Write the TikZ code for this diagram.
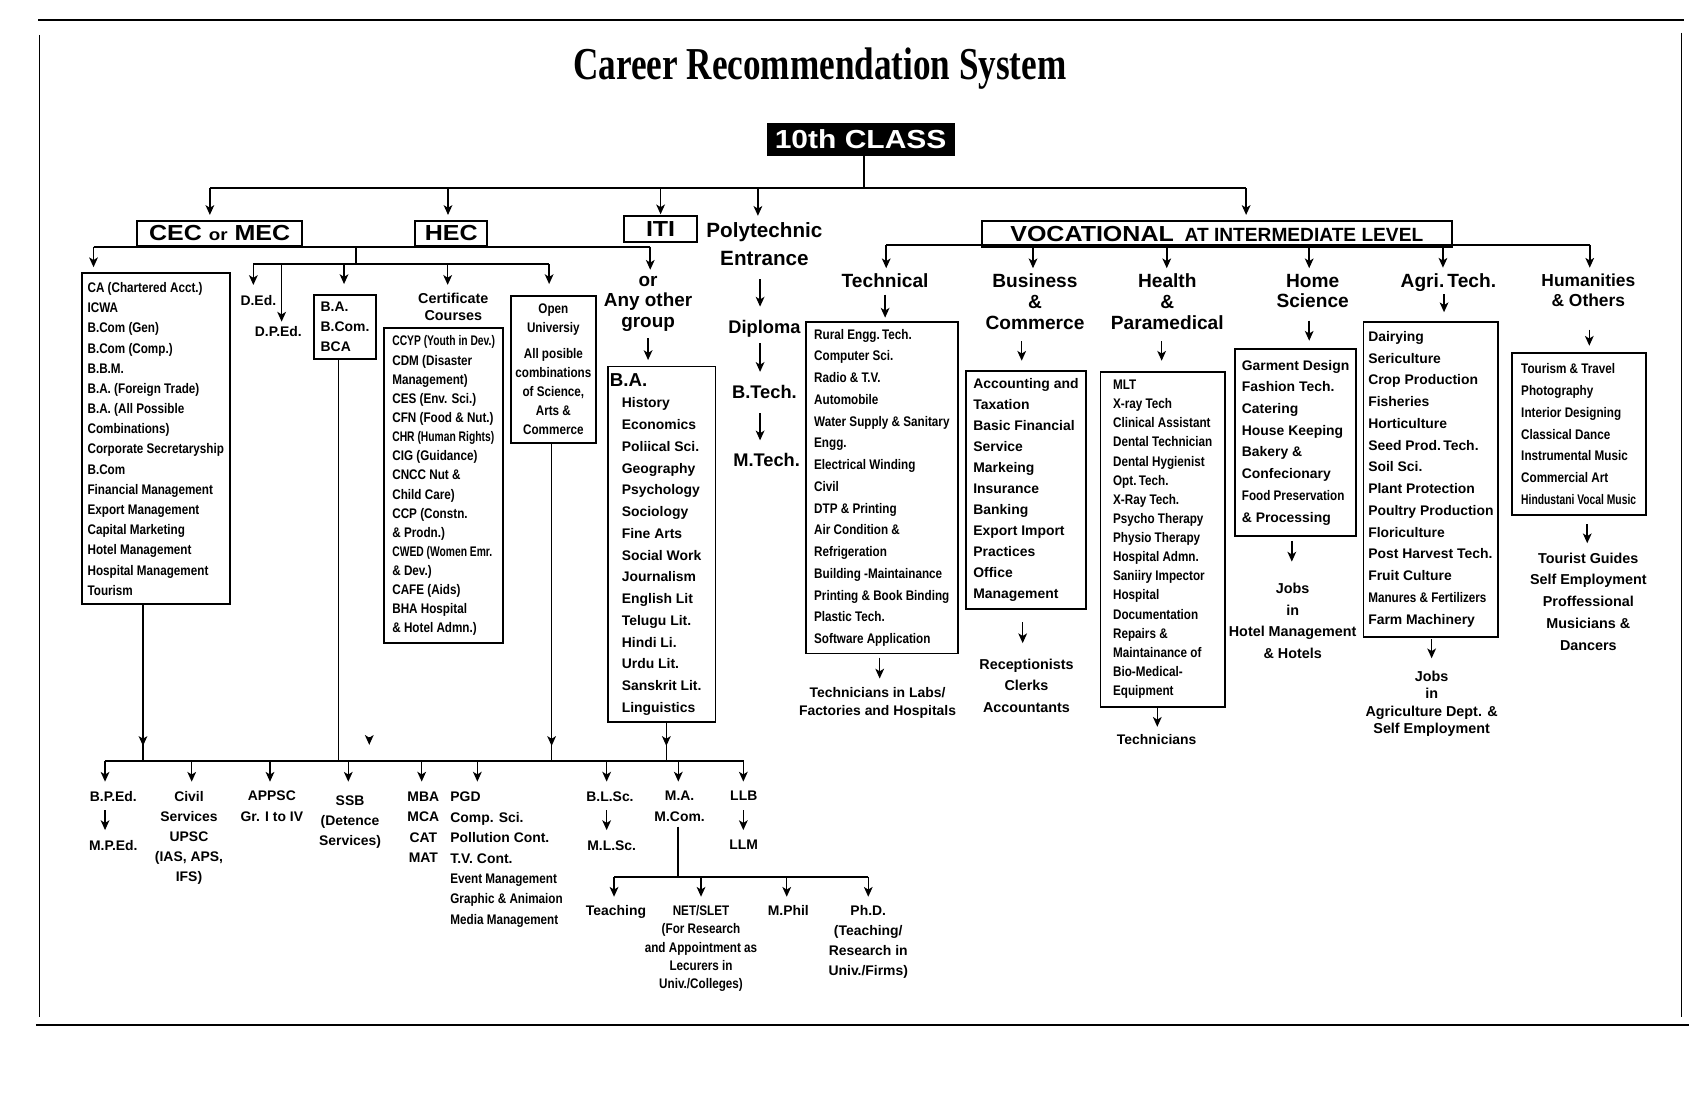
\documentclass[tikz,border=0pt]{standalone}
\usepackage{fontspec}
\setmainfont{Liberation Sans}
\newfontfamily\narrowfont{Liberation Sans}[FakeStretch=0.84]
\newfontfamily\tightfont{Liberation Sans}[FakeStretch=0.74]
\newfontfamily\widefont{Liberation Sans}[FakeStretch=1.15]
\newfontfamily\titlefont{Liberation Serif}[FakeStretch=0.77]
\usetikzlibrary{arrows.meta, decorations.markings}
\newcommand{\setfs}[2]{\fontsize{#1}{#2}\selectfont}
\tikzset{
    >={Stealth[length=4.5pt, width=4pt, inset=1.2pt]},
    every node/.style={inner sep=0pt, font=\bfseries\setfs{6.4}{9.5}},
    link/.style={line width=.7pt},
    bus/.style={line width=.9pt},
    arr/.style={->, line width=.7pt},
    tipline/.style={link, postaction=decorate, decoration={markings, mark=at position -7pt with {\arrow{>}}}},
    stream/.style={draw, line width=.9pt, minimum height=11.6pt, font=\widefont\bfseries\setfs{10}{12}},
    listbox/.style={draw, line width=.85pt, align=left, inner xsep=1pt},
    head/.style={anchor=north, align=center, font=\bfseries\setfs{8.8}{9.5}},
    txt/.style={anchor=north, align=center}
}
\begin{document}
\begin{tikzpicture}[x=.5pt, y=-.5pt]
    \fill[white] (0,0) rectangle (1568,1020);
    \draw[line width=1.2pt] (35,18.4) -- (1549,18.4);
    \draw[line width=1.2pt] (33,942.6) -- (1553,942.6);
    \draw[line width=.5pt] (36,32) -- (36,935);
    \draw[line width=.5pt] (1546.5,30) -- (1546.5,935);

    \node[anchor=base, font=\titlefont\bfseries\setfs{21}{24}] (title) at (754,72.7) {Career Recommendation System};
    \node[fill=black, text=white, minimum width=86.5pt, minimum height=14.9pt, font=\widefont\bfseries\setfs{12}{14}] (cls) at (791.5,128.3) {10th CLASS};

    \node[stream, minimum width=76pt] (cec) at (202,214.6) {CEC {\setfs{7.5}{9}or} MEC};
    \node[stream, minimum width=33pt] (hec) at (415,214.6) {HEC};
    \node[stream, minimum width=33.5pt, minimum height=12.1pt] (iti) at (607.5,210.7) {ITI};
    \node[head, font=\bfseries\setfs{9.5}{12.75}] (poly) at (703,204.5) {Polytechnic\\Entrance};
    \node[stream, minimum width=216pt, minimum height=11.8pt] (voc) at (1119,215) {VOCATIONAL\enspace{\normalfont\bfseries\setfs{8.8}{10}AT INTERMEDIATE LEVEL}};

    \coordinate (hub) at (795,173.2);
    \coordinate (tl) at (193,173.2);
    \coordinate (tr) at (1146,173.2);
    \draw[bus] (cls.south -| hub) -- (hub);
    \draw[bus] (tl) -- (tr);
    \foreach \x/\n/\s in {193/cec/2.2, 412/hec/2.2, 607.5/iti/0.3, 697/poly/3, 1146/voc/2.3}{
        \coordinate (k\n) at (\x,173.2);
        \draw[arr, shorten >=\s pt] (k\n) -- (k\n |- \n.north);
    }

    % CEC / HEC branch
    \node[listbox, font=\narrowfont\bfseries\setfs{6.4}{9.28}, minimum width=68.2pt, minimum height=152.2pt] (ca) at (143.3,403.6) {CA (Chartered Acct.)\\ICWA\\B.Com (Gen)\\B.Com (Comp.)\\B.B.M.\\B.A. (Foreign Trade)\\B.A. (All Possible\\Combinations)\\Corporate Secretaryship\\B.Com\\Financial Management\\Export Management\\Capital Marketing\\Hotel Management\\Hospital Management\\Tourism};
    \node[txt] (ded) at (237.6,271.3) {D.Ed.};
    \node[txt] (dped) at (256,299.4) {D.P.Ed.};
    \node[listbox, font=\bfseries\setfs{6.4}{9.2}, minimum width=28.25pt, minimum height=29.6pt] (babox) at (317.3,300.9) {B.A.\\B.Com.\\BCA};
    \node[txt, font=\bfseries\setfs{6.6}{7.7}] (certhd) at (416.9,269.6) {Certificate\\Courses};
    \node[listbox, font=\narrowfont\bfseries\setfs{6.4}{8.8}, minimum width=54.9pt, minimum height=144.8pt] (cert) at (408,446.8) {{\tightfont CCYP (Youth in Dev.)}\\CDM (Disaster\\Management)\\CES (Env. Sci.)\\CFN (Food \& Nut.)\\{\tightfont CHR (Human Rights)}\\CIG (Guidance)\\CNCC Nut \&\\Child Care)\\CCP (Constn.\\\& Prodn.)\\{\tightfont CWED (Women Emr.}\\\& Dev.)\\CAFE (Aids)\\BHA Hospital\\\& Hotel Admn.)};
    \node[listbox, align=center, font=\narrowfont\bfseries\setfs{6.4}{8.75}, minimum width=38.9pt, minimum height=67.9pt] (open) at (508.9,339.8) {Open\\Universiy\\[3pt]All posible\\combinations\\of Science,\\Arts \&\\Commerce};
    \node[txt, font=\bfseries\setfs{8.7}{9.5}] (grp) at (596,253.5) {or\\Any other\\group};
    \node[listbox, font=\bfseries\setfs{6.4}{10}, minimum width=49.5pt, minimum height=163.5pt] (bagrp) at (608.5,500.5) {\hspace*{-5.5pt}{\setfs{8.6}{10}B.A.}\\History\\Economics\\Poliical Sci.\\Geography\\Psychology\\Sociology\\Fine Arts\\Social Work\\Journalism\\English Lit\\Telugu Lit.\\Hindi Li.\\Urdu Lit.\\Sanskrit Lit.\\Linguistics};

    \coordinate (cl) at (86,226.8);
    \coordinate (cr) at (598,226.8);
    \coordinate (hj) at (327,226.8);
    \coordinate (hl) at (233,243);
    \coordinate (hr) at (505,243);
    \draw[bus] (cl) -- (cr);
    \draw[arr, shorten >=2.4pt] (cl) -- (cl |- ca.north);
    \draw[arr, shorten >=2.7pt] (cr) -- (cr |- grp.north);
    \draw[bus] (hj) -- (hj |- hl);
    \draw[bus] (hl) -- (hr);
    \foreach \x/\n/\s in {233/ded/4.6, 259/dped/1.8, 316.4/babox/4.6, 411.7/certhd/3.8, 505/open/4.9}{
        \coordinate (k\n) at (\x,243);
        \draw[arr, shorten >=\s pt] (k\n) -- (k\n |- \n.north);
    }
    \draw[arr, shorten <=2.9pt, shorten >=2.5pt] (grp.south) -- (grp.south |- bagrp.north);

    % polytechnic
    \node[txt, font=\bfseries\setfs{8.4}{10}] (dip) at (703,294) {Diploma};
    \node[txt, font=\bfseries\setfs{8.4}{10}] (btech) at (703,353.6) {B.Tech.};
    \node[txt, font=\bfseries\setfs{8.4}{10}] (mtech) at (705,416) {M.Tech.};
    \coordinate (px) at (699,0);
    \draw[arr, shorten <=6pt, shorten >=6pt] (poly.south -| px) -- (dip.north -| px);
    \draw[arr, shorten <=2.7pt, shorten >=5.8pt] (dip.south -| px) -- (btech.north -| px);
    \draw[arr, shorten <=6.7pt, shorten >=5.5pt] (btech.south -| px) -- (mtech.north -| px);

    % vocational
    \node[head] (tech) at (814,251.7) {Technical};
    \node[head] (busi) at (951.8,251.7) {Business\\\&\\Commerce};
    \node[head] (hlth) at (1073.5,251.7) {Health\\\&\\Paramedical};
    \node[head, font=\bfseries\setfs{8.8}{9.4}] (home) at (1207.2,251.7) {Home\\Science};
    \node[head] (agri) at (1332,251.2) {Agri.\,Tech.};
    \node[head, font=\bfseries\setfs{8}{9.5}] (hum) at (1460.7,251.2) {Humanities\\\& Others};

    \coordinate (vl) at (815,225.3);
    \coordinate (vr) at (1462,225.3);
    \draw[bus] (vl) -- (vr);
    \foreach \x/\n in {815/tech, 950/busi, 1073/hlth, 1204/home, 1327/agri, 1462/hum}{
        \coordinate (k\n) at (\x,225.3);
        \draw[arr, shorten >=2.5pt] (k\n) -- (k\n |- \n.north);
    }

    \node[listbox, font=\narrowfont\bfseries\setfs{6.4}{10}, minimum width=70pt, minimum height=152.5pt] (techbox) at (811,448.5) {Rural Engg.\,Tech.\\Computer Sci.\\Radio \& T.V.\\Automobile\\Water Supply \& Sanitary\\Engg.\\Electrical Winding\\Civil\\DTP \& Printing\\Air Condition \&\\Refrigeration\\Building -Maintainance\\Printing \& Book Binding\\Plastic Tech.\\Software Application};
    \node[listbox, font=\bfseries\setfs{6.4}{9.64}, minimum width=55.5pt, minimum height=109.5pt] (busbox) at (943.5,450.5) {Accounting and\\Taxation\\Basic Financial\\Service\\Markeing\\Insurance\\Banking\\Export Import\\Practices\\Office\\Management};
    \node[listbox, font=\narrowfont\bfseries\setfs{6.4}{8.8}, minimum width=57.3pt, minimum height=154.1pt] (hlthbox) at (1069.3,495.9) {MLT\\X-ray Tech\\Clinical Assistant\\Dental Technician\\Dental Hygienist\\Opt.\,Tech.\\X-Ray Tech.\\Psycho Therapy\\Physio Therapy\\Hospital Admn.\\Saniiry Impector\\Hospital\\Documentation\\Repairs \&\\Maintainance of\\Bio-Medical-\\Equipment};
    \node[listbox, font=\bfseries\setfs{6.4}{10}, minimum width=55.5pt, minimum height=86pt] (homebox) at (1191.5,407) {Garment Design\\Fashion Tech.\\Catering\\House Keeping\\Bakery \&\\Confecionary\\{\narrowfont Food Preservation}\\\& Processing};
    \node[listbox, font=\bfseries\setfs{6.4}{10}, minimum width=62pt, minimum height=144.9pt] (agribox) at (1315.9,440.7) {Dairying\\Sericulture\\Crop Production\\Fisheries\\Horticulture\\Seed Prod.\,Tech.\\Soil Sci.\\Plant Protection\\Poultry Production\\Floriculture\\Post Harvest Tech.\\Fruit Culture\\{\narrowfont Manures \& Fertilizers}\\Farm Machinery};
    \node[listbox, font=\narrowfont\bfseries\setfs{6.4}{10}, minimum width=61.6pt, minimum height=74.3pt] (humbox) at (1451.8,399.3) {Tourism \& Travel\\Photography\\Interior Designing\\Classical Dance\\Instrumental Music\\Commercial Art\\{\tightfont Hindustani Vocal Music}};

    \foreach \x/\a/\b/\s/\t in {814/tech/techbox/2.8/1.5, 939.6/busi/busbox/5.2/4.2, 1068.3/hlth/hlthbox/5.2/4.6, 1204/home/homebox/5.6/3.4, 1328/agri/agribox/1.1/3.9, 1461.6/hum/humbox/10.2/3.1}{
        \coordinate (x\a) at (\x,0);
        \draw[arr, shorten <=\s pt, shorten >=\t pt] (\a.south -| x\a) -- (\b.north -| x\a);
    }

    \node[txt, font=\bfseries\setfs{6.4}{8.5}] (techjob) at (807,631.4) {Technicians in Labs/\\Factories and Hospitals};
    \node[txt, font=\bfseries\setfs{6.6}{10}] (busjob) at (944,605.3) {Receptionists\\Clerks\\Accountants};
    \node[txt] (hlthjob) at (1063.7,675.4) {Technicians};
    \node[txt, font=\bfseries\setfs{6.6}{10}] (homejob) at (1188.8,535.7) {Jobs\\in\\Hotel Management\\\& Hotels};
    \node[txt, font=\bfseries\setfs{6.6}{7.9}] (agrijob) at (1316.6,617) {Jobs\\in\\Agriculture Dept. \&\\Self Employment};
    \node[txt, font=\bfseries\setfs{6.6}{10.1}] (humjob) at (1460.7,507.8) {Tourist Guides\\Self Employment\\Proffessional\\Musicians \&\\Dancers};

    \foreach \x/\a/\b/\s/\t in {809/techbox/techjob/1.5/3.7, 940.5/busbox/busjob/5.8/6.9, 1064.3/hlthbox/hlthjob/0/3.5, 1188/homebox/homejob/1.8/9.6, 1316.6/agribox/agrijob/0.75/5.8, 1459.7/humbox/humjob/3.85/4.1}{
        \coordinate (y\a) at (\x,0);
        \draw[arr, shorten <=\s pt, shorten >=\t pt] (\a.south -| y\a) -- (\b.north -| y\a);
    }

    % after graduation
    \coordinate (bl) at (96.6,700);
    \coordinate (br) at (684,700);
    \coordinate (dca) at (131.5,700);
    \coordinate (dba) at (311.5,700);
    \coordinate (dop) at (507.3,700);
    \coordinate (dbg) at (612.8,700);
    \coordinate (stray) at (339.6,685);
    \draw[bus] (bl) -- (br);
    \draw[tipline] (ca.south -| dca) -- (dca);
    \draw[link] (babox.south -| dba) -- (dba);
    \draw[arr] (339.6,678) -- (stray);
    \draw[tipline] (open.south -| dop) -- (dop);
    \draw[tipline] (bagrp.south -| dbg) -- (dbg);

    \node[txt] (bped) at (104.2,727.1) {B.P.Ed.};
    \node[txt] (mped) at (104.2,772.4) {M.P.Ed.};
    \node[txt, font=\bfseries\setfs{6.4}{9.25}] (civil) at (173.8,727.1) {Civil\\Services\\UPSC\\(IAS, APS,\\IFS)};
    \node[txt, font=\bfseries\setfs{6.4}{9.35}] (appsc) at (250,727.1) {APPSC\\Gr. I to IV};
    \node[txt, font=\bfseries\setfs{6.4}{9.2}] (ssb) at (321.9,731.1) {SSB\\(Detence\\Services)};
    \node[txt, font=\bfseries\setfs{6.4}{9.35}] (mba) at (389.3,728) {MBA\\MCA\\CAT\\MAT};
    \node[txt, anchor=north west, align=left, font=\bfseries\setfs{6.4}{9.4}] (pgd) at (413.8,728) {PGD\\Comp. Sci.\\Pollution Cont.\\T.V. Cont.\\{\narrowfont Event Management}\\{\narrowfont Graphic \& Animaion}\\{\narrowfont Media Management}};
    \node[txt] (blsc) at (561,727.4) {B.L.Sc.};
    \node[txt] (mlsc) at (562.5,772.4) {M.L.Sc.};
    \node[txt, font=\bfseries\setfs{6.4}{9.5}] (mama) at (625,727.4) {M.A.\\M.Com.};
    \node[txt] (llb) at (684,727.4) {LLB};
    \node[txt] (llm) at (684,772.4) {LLM};

    \foreach \x/\n/\s in {96.6/bped/4.1, 176.3/civil/4.1, 248.3/appsc/4.1, 320.3/ssb/6.1, 387.8/mba/4.6, 439/pgd/4.6, 557.9/blsc/4.3, 623.8/mama/4.3, 683.6/llb/4.3}{
        \coordinate (k\n) at (\x,700);
        \draw[arr, shorten >=\s pt] (k\n) -- (k\n |- \n.north);
    }
    \draw[arr, shorten <=4pt, shorten >=4.5pt] (bped.south -| kbped) -- (mped.north -| kbped);
    \draw[arr, shorten <=4pt, shorten >=4.5pt] (blsc.south -| kblsc) -- (mlsc.north -| kblsc);
    \draw[arr, shorten <=4pt, shorten >=4.5pt] (llb.south -| kllb) -- (llm.north -| kllb);

    \coordinate (mj) at (623.8,806.2);
    \coordinate (ml) at (564.7,806.2);
    \coordinate (mr) at (798.5,806.2);
    \draw[bus, shorten <=2pt] (mama.south -| mj) -- (mj);
    \draw[bus] (ml) -- (mr);

    \node[txt] (teach) at (566.5,832.3) {Teaching};
    \node[txt, font=\narrowfont\bfseries\setfs{6.4}{8.4}] (net) at (644.7,832.3) {NET/SLET\\(For Research\\and Appointment as\\Lecurers in\\Univ./Colleges)};
    \node[txt] (mphil) at (725,832.3) {M.Phil};
    \node[txt, font=\bfseries\setfs{6.4}{9.2}] (phd) at (798.5,832.3) {Ph.D.\\(Teaching/\\Research in\\Univ./Firms)};
    \foreach \x/\n in {564.7/teach, 644.7/net, 723.5/mphil, 798.5/phd}{
        \coordinate (k\n) at (\x,806.2);
        \draw[arr, shorten >=3.8pt] (k\n) -- (k\n |- \n.north);
    }
\end{tikzpicture}
\end{document}
